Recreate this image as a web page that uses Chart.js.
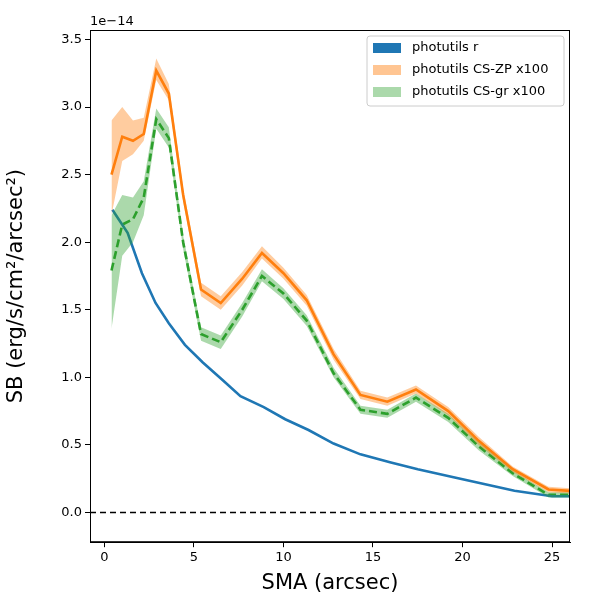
<!DOCTYPE html>
<html>
<head>
<meta charset="utf-8">
<script src="https://cdn.jsdelivr.net/npm/chart.js@4/dist/chart.umd.min.js"></script>
<style>
  html, body { margin: 0; padding: 0; background: #fff; }
  #wrap { width: 600px; height: 600px; }
</style>
</head>
<body>
<div id="wrap"><canvas id="sbChart" width="600" height="600"></canvas></div>
<script>
// SB profile values in units of 1e-14 erg/s/cm^2/arcsec^2
const smaR = [0.45, 1.3, 2.1, 2.86, 3.6, 4.5, 5.5, 6.6, 7.6, 8.9, 10.1, 11.4, 12.8, 14.3, 16.0, 17.5, 19.5, 21.2, 22.9, 25.0, 26.0];
const sbR  = [2.24, 2.07, 1.77, 1.55, 1.40, 1.24, 1.11, 0.98, 0.86, 0.78, 0.69, 0.61, 0.51, 0.43, 0.37, 0.32, 0.26, 0.21, 0.16, 0.12, 0.12];

const sma = [0.4, 1.0, 1.6, 2.2, 2.9, 3.6, 4.4, 5.4, 6.5, 7.7, 8.8, 10.0, 11.3, 12.8, 14.3, 15.8, 17.4, 19.2, 20.9, 22.8, 24.8, 26.0];
const sbZP   = [2.50, 2.78, 2.75, 2.80, 3.27, 3.10, 2.35, 1.65, 1.55, 1.73, 1.92, 1.77, 1.57, 1.17, 0.87, 0.82, 0.91, 0.75, 0.53, 0.32, 0.17, 0.16];
const sbZPlo = [2.20, 2.60, 2.65, 2.75, 3.20, 3.05, 2.30, 1.60, 1.50, 1.68, 1.88, 1.73, 1.53, 1.13, 0.84, 0.79, 0.88, 0.72, 0.50, 0.30, 0.15, 0.14];
const sbZPhi = [2.90, 3.00, 2.90, 2.92, 3.36, 3.17, 2.40, 1.70, 1.60, 1.78, 1.97, 1.81, 1.61, 1.21, 0.90, 0.85, 0.94, 0.78, 0.56, 0.34, 0.19, 0.18];
const sbGR   = [1.79, 2.13, 2.17, 2.33, 2.91, 2.77, 2.00, 1.32, 1.26, 1.50, 1.75, 1.62, 1.42, 1.03, 0.76, 0.73, 0.85, 0.70, 0.49, 0.29, 0.13, 0.13];
const sbGRlo = [1.36, 1.90, 2.00, 2.20, 2.84, 2.70, 1.95, 1.27, 1.21, 1.45, 1.71, 1.58, 1.38, 1.00, 0.73, 0.70, 0.82, 0.67, 0.46, 0.27, 0.11, 0.11];
const sbGRhi = [2.20, 2.35, 2.33, 2.45, 2.99, 2.85, 2.05, 1.37, 1.31, 1.55, 1.80, 1.66, 1.46, 1.07, 0.79, 0.76, 0.88, 0.73, 0.52, 0.31, 0.15, 0.15];
const xTicks = [0, 5, 10, 15, 20, 25];
const yTicks = [0, 0.5, 1.0, 1.5, 2.0, 2.5, 3.0, 3.5];

const pts = (xs, ys) => xs.map((x, i) => ({ x: x, y: ys[i] }));
const band = (ys, fillTo, color) => ({
    data: pts(sma, ys), showLine: true, borderWidth: 0, pointRadius: 0,
    backgroundColor: color, fill: fillTo
});

const legendItems = [
    { text: "photutils r", color: "#1f77b4" },
    { text: "photutils CS-ZP x100", color: "rgba(255,127,14,0.45)" },
    { text: "photutils CS-gr x100", color: "rgba(44,160,44,0.4)" }
];

const extras = {
    id: "extras",
    afterDraw(chart) {
        const c = chart.ctx, a = chart.chartArea;
        const y0 = chart.scales.y.getPixelForValue(0);
        c.save();
        c.strokeStyle = "#000"; c.lineWidth = 1.5; c.setLineDash([6, 4]);
        c.beginPath(); c.moveTo(a.left, y0); c.lineTo(a.right, y0); c.stroke();
        c.setLineDash([]);
        // frame
        c.lineWidth = 1;
        c.strokeRect(a.left + 0.5, a.top + 0.5, a.right - a.left - 1, a.bottom - a.top - 1);
        c.font = "13px 'DejaVu Sans'"; c.fillStyle = "#000";
        c.textBaseline = "bottom";
        c.fillText("1e\u221214", a.left, a.top - 2);
        // legend
        const lx = 367, ly = 36, lw = 197, lh = 70;
        c.fillStyle = "rgba(255,255,255,0.8)"; c.strokeStyle = "#ccc"; c.lineWidth = 1;
        c.beginPath(); c.roundRect(lx, ly, lw, lh, 3); c.fill(); c.stroke();
        c.textBaseline = "middle";
        legendItems.forEach((it, i) => {
            const yy = ly + 12 + i * 22;
            c.fillStyle = it.color; c.fillRect(lx + 6, yy - 5, 28, 10);
            c.fillStyle = "#000"; c.fillText(it.text, lx + 45, yy);
        });
        c.restore();
    }
};

const axisGrid = { display: true, drawOnChartArea: false, drawTicks: true, tickLength: 5, color: "#000" };

new Chart(document.getElementById("sbChart"), {
    type: "scatter",
    data: {
        datasets: [
            band(sbZPlo, false, "rgba(255,127,14,0.4)"),
            band(sbZPhi, "-1", "rgba(255,127,14,0.4)"),
            band(sbGRlo, false, "rgba(44,160,44,0.4)"),
            band(sbGRhi, "-1", "rgba(44,160,44,0.4)"),
            { data: pts(smaR, sbR), showLine: true, borderColor: "#1f77b4", borderWidth: 2.6, pointRadius: 0 },
            { data: pts(sma, sbZP), showLine: true, borderColor: "#ff7f0e", borderWidth: 2.6, pointRadius: 0 },
            { data: pts(sma, sbGR), showLine: true, borderColor: "#2ca02c", borderWidth: 2.6, borderDash: [8, 4], pointRadius: 0 }
        ]
    },
    options: {
        responsive: false,
        animation: false,
        layout: { padding: { top: 30, right: 30, left: 0, bottom: 0 } },
        plugins: { legend: { display: false }, tooltip: { enabled: false } },
        scales: {
            x: {
                min: -0.8, max: 26,
                afterBuildTicks: s => { s.ticks = xTicks.map(v => ({ value: v })); },
                grid: axisGrid,
                border: { color: "#000" },
                ticks: { color: "#000", font: { family: "DejaVu Sans", size: 13 } },
                title: { display: true, text: "SMA (arcsec)", color: "#000", font: { family: "DejaVu Sans", size: 21 }, padding: { top: 2 } }
            },
            y: {
                min: -0.22, max: 3.57,
                afterBuildTicks: s => { s.ticks = yTicks.map(v => ({ value: v })); },
                afterFit: s => { s.width = 90; },
                grid: axisGrid,
                border: { color: "#000" },
                ticks: { color: "#000", font: { family: "DejaVu Sans", size: 13 }, callback: v => v.toFixed(1) },
                title: { display: true, text: "SB (erg/s/cm\u00b2/arcsec\u00b2)", color: "#000", font: { family: "DejaVu Sans", size: 21 } }
            }
        }
    },
    plugins: [extras]
});
</script>
</body>
</html>
